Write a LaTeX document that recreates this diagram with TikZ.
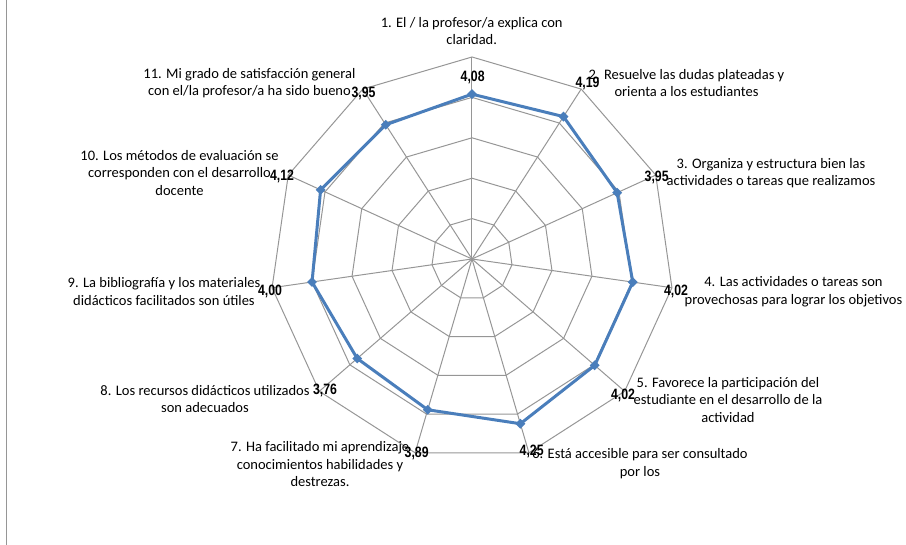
\documentclass[tikz,border=0pt]{standalone}
\usepackage{fontspec}
\setmainfont{Carlito}
\newfontfamily\valfont[FakeStretch=0.82]{Liberation Sans}
\usetikzlibrary{shapes.geometric}
\definecolor{rejilla}{RGB}{150,150,150}
\definecolor{serie}{RGB}{74,126,187}
\tikzset{
	rejilla/.style = {draw=rejilla, line width = 1pt},
	serie/.style = {draw=serie, line width = 3pt, line join = round},
	marca/.style = {diamond, fill=serie, inner sep=0pt, minimum size=10pt},
	categoria/.style = {align=center, font=\fontsize{14.5}{17.5}\selectfont, inner sep=0pt},
	valor/.style = {font=\valfont\bfseries\fontsize{15}{15}\selectfont, inner sep=0pt}
}
\begin{document}
\begin{tikzpicture}[x = 1pt, y = 1pt]
	\useasboundingbox (-472,-286) rectangle (434,259);
	\draw[rejilla] (-465,-286) -- (-465,259);
	\foreach \r in {1,...,5}
		\draw[rejilla] (90:\r*40.4) \foreach \k in {1,...,10} {-- (90-\k*32.7273:\r*40.4)} -- cycle;
	\foreach \k in {0,...,10}
		\draw[rejilla] (0,0) -- (90-\k*32.7273:202);
	\foreach \v [count=\k from 0] in {4.08,4.19,3.95,4.02,4.02,4.25,3.89,3.76,4.00,4.12,3.95}
		\coordinate (p\k) at (90-\k*32.7273:\v*40.4);
	\draw[serie] (p0) -- (p1) -- (p2) -- (p3) -- (p4) -- (p5) -- (p6) -- (p7) -- (p8) -- (p9) -- (p10) -- cycle;
	\foreach \k in {0,...,10}
		\node[marca] (m\k) at (p\k) {};
	\node[categoria] (c1) at (-0.3,228) {1. El / la profesor/a explica con\\claridad.};
	\node[categoria] (c2) at (214.5,176) {2. Resuelve las dudas plateadas y\\orienta a los estudiantes};
	\node[categoria] (c3) at (299,86) {3. Organiza y estructura bien las\\actividades o tareas que realizamos};
	\node[categoria] (c4) at (321.5,-32.7) {4. Las actividades o tareas son\\provechosas para lograr los objetivos};
	\node[categoria] (c5) at (256,-140.7) {5. Favorece la participación del\\estudiante en el desarrollo de la\\actividad};
	\node[categoria] (c6) at (168,-204.5) {6. Está accesible para ser consultado\\por los};
	\node[categoria] (c7) at (-152,-205.3) {7. Ha facilitado mi aprendizaje\\conocimientos habilidades y\\destrezas.};
	\node[categoria] (c8) at (-267,-140) {8. Los recursos didácticos utilizados\\son adecuados};
	\node[categoria] (c9) at (-308,-32.3) {9. La bibliografía y los materiales\\didácticos facilitados son útiles};
	\node[categoria] (c10) at (-292.5,86.3) {10. Los métodos de evaluación se\\corresponden con el desarrollo\\docente};
	\node[categoria] (c11) at (-222.5,175.7) {11. Mi grado de satisfacción general\\con el/la profesor/a ha sido bueno};
	\node[valor] (v1) at (0.7,182) {4,08};
	\node[valor] (v2) at (115.5,176) {4,19};
	\node[valor] (v3) at (184.7,82) {3,95};
	\node[valor] (v4) at (204,-32) {4,02};
	\node[valor] (v5) at (151,-136) {4,02};
	\node[valor] (v6) at (59.7,-192) {4,25};
	\node[valor] (v7) at (-55.3,-194) {3,89};
	\node[valor] (v8) at (-147,-131) {3,76};
	\node[valor] (v9) at (-202,-32) {4,00};
	\node[valor] (v10) at (-190,83) {4,12};
	\node[valor] (v11) at (-108.5,166) {3,95};
\end{tikzpicture}
\end{document}
